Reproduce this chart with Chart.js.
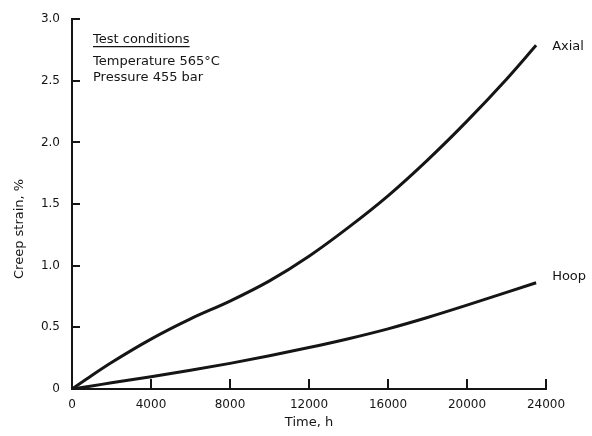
<!DOCTYPE html>
<html>
<head>
<meta charset="utf-8">
<script src="https://cdn.jsdelivr.net/npm/chart.js@4/dist/chart.umd.min.js"></script>
<style>
  html, body { margin: 0; padding: 0; background: #fff; }
  #wrap { width: 592px; height: 436px; }
</style>
</head>
<body>
<div id="wrap"><canvas id="c" width="592" height="436"></canvas></div>
<script>
const timeHours = [0, 1000, 2000, 4000, 6000, 8000, 10000, 12000, 14000, 16000, 18000, 20000, 22000, 23500];
const axialStrain = [0, 0.11, 0.215, 0.405, 0.569, 0.713, 0.877, 1.077, 1.311, 1.567, 1.857, 2.173, 2.513, 2.788];
const hoopStrain = [0, 0.025, 0.05, 0.10, 0.152, 0.208, 0.27, 0.336, 0.408, 0.488, 0.58, 0.68, 0.784, 0.862];
const seriesNames = ['Axial', 'Hoop'];
const xTickValues = [0, 4000, 8000, 12000, 16000, 20000, 24000];
const yTickValues = [0, 0.5, 1.0, 1.5, 2.0, 2.5, 3.0];
const noteLines = ['Test conditions', 'Temperature 565°C', 'Pressure 455 bar'];

const INK = '#151515';
const FONT = '"DejaVu Sans", sans-serif';

const toPoints = (ys) => timeHours.map((t, i) => ({ x: t, y: ys[i] }));

const inwardTicks = {
  id: 'inwardTicks',
  afterDraw(chart) {
    const { ctx, scales: { x, y } } = chart;
    ctx.save();
    ctx.strokeStyle = INK;
    ctx.lineWidth = 2;
    ctx.beginPath();
    yTickValues.forEach(v => {
      if (v === 0) return;
      const py = Math.round(y.getPixelForValue(v));
      ctx.moveTo(x.left, py);
      ctx.lineTo(x.left + 8, py);
    });
    xTickValues.forEach(v => {
      if (v === 0) return;
      const px = Math.round(x.getPixelForValue(v));
      ctx.moveTo(px, y.bottom);
      ctx.lineTo(px, y.bottom - 10);
    });
    ctx.stroke();

    // series end labels
    ctx.fillStyle = INK;
    ctx.font = '13px ' + FONT;
    ctx.textBaseline = 'middle';
    ctx.textAlign = 'left';
    chart.data.datasets.forEach((ds, i) => {
      const last = ds.data[ds.data.length - 1];
      const px = x.getPixelForValue(last.x);
      const py = y.getPixelForValue(last.y);
      ctx.fillText(seriesNames[i], px + 16, py + (i === 0 ? 1 : -6));
    });

    // test conditions note
    const nx = x.left + 21;
    ctx.textBaseline = 'alphabetic';
    ctx.fillText(noteLines[0], nx, chart.chartArea.top + 24);
    const w = ctx.measureText(noteLines[0]).width;
    ctx.lineWidth = 1.2;
    ctx.beginPath();
    ctx.moveTo(nx, chart.chartArea.top + 27.5);
    ctx.lineTo(nx + w, chart.chartArea.top + 27.5);
    ctx.stroke();
    ctx.fillText(noteLines[1], nx, chart.chartArea.top + 46);
    ctx.fillText(noteLines[2], nx, chart.chartArea.top + 62);
    ctx.restore();
  }
};

new Chart(document.getElementById('c'), {
  type: 'line',
  data: {
    datasets: [
      { label: seriesNames[0], data: toPoints(axialStrain), borderColor: INK, borderWidth: 3, pointRadius: 0, cubicInterpolationMode: 'monotone', fill: false },
      { label: seriesNames[1], data: toPoints(hoopStrain), borderColor: INK, borderWidth: 3, pointRadius: 0, cubicInterpolationMode: 'monotone', fill: false }
    ]
  },
  options: {
    responsive: false,
    animation: false,
    devicePixelRatio: 1,
    layout: { padding: { top: 18, right: 46, left: 0, bottom: 0 } },
    plugins: { legend: { display: false }, tooltip: { enabled: false } },
    scales: {
      x: {
        type: 'linear',
        min: 0, max: 24000,
        afterFit: (s) => { s.height = 47; },
        afterBuildTicks: (s) => { s.ticks = xTickValues.map(v => ({ value: v })); },
        grid: { display: true, drawOnChartArea: false, drawTicks: false },
        border: { display: true, color: INK, width: 2 },
        ticks: { color: INK, font: { family: FONT, size: 12 }, padding: 9, maxRotation: 0, autoSkip: false, callback: (v) => String(v) },
        title: { display: true, text: 'Time, h', color: INK, font: { family: FONT, size: 13 }, padding: { top: 0, bottom: 6 } }
      },
      y: {
        type: 'linear',
        min: 0, max: 3.0,
        afterFit: (s) => { s.width = 72; },
        afterBuildTicks: (s) => { s.ticks = yTickValues.map(v => ({ value: v })); },
        grid: { display: true, drawOnChartArea: false, drawTicks: false },
        border: { display: true, color: INK, width: 2 },
        ticks: { color: INK, font: { family: FONT, size: 12 }, padding: 12, autoSkip: false, callback: (v) => v === 0 ? '0' : Number(v).toFixed(1) },
        title: { display: true, text: 'Creep strain, %            ', color: INK, font: { family: FONT, size: 13 }, padding: { top: 12, bottom: 0 } }
      }
    }
  },
  plugins: [inwardTicks]
});
</script>
</body>
</html>
